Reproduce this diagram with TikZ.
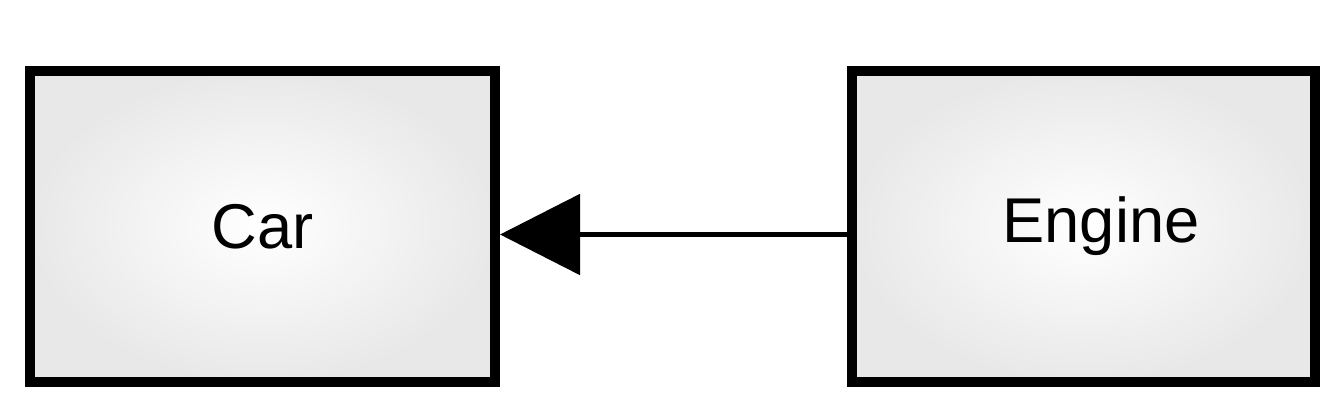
\documentclass[tikz,border=0pt]{standalone}
\usepackage{fontspec}
\setmainfont{Liberation Sans}
\usetikzlibrary{positioning,arrows.meta}
\tikzset{
  classbox/.style={draw=black, line width=0.2cm, minimum width=9.3cm, minimum height=6.22cm,
    inner color=white, outer color=black!9, font=\fontsize{36}{40}\selectfont},
  assoc/.style={line width=0.11cm, -{Triangle[length=1.6cm,width=1.6cm]}}
}
\begin{document}
\begin{tikzpicture}
\useasboundingbox (0,0) rectangle (26.88,8.36);
\node[classbox] (car) at (5.25,3.83) {Car};
\node[classbox, minimum width=9.26cm, right=6.94cm of car] (engine) {\hspace{0.7cm}Engine};
\draw[assoc] ([yshift=-0.16cm]engine.west) -- ([yshift=-0.16cm]car.east);
\end{tikzpicture}
\end{document}
